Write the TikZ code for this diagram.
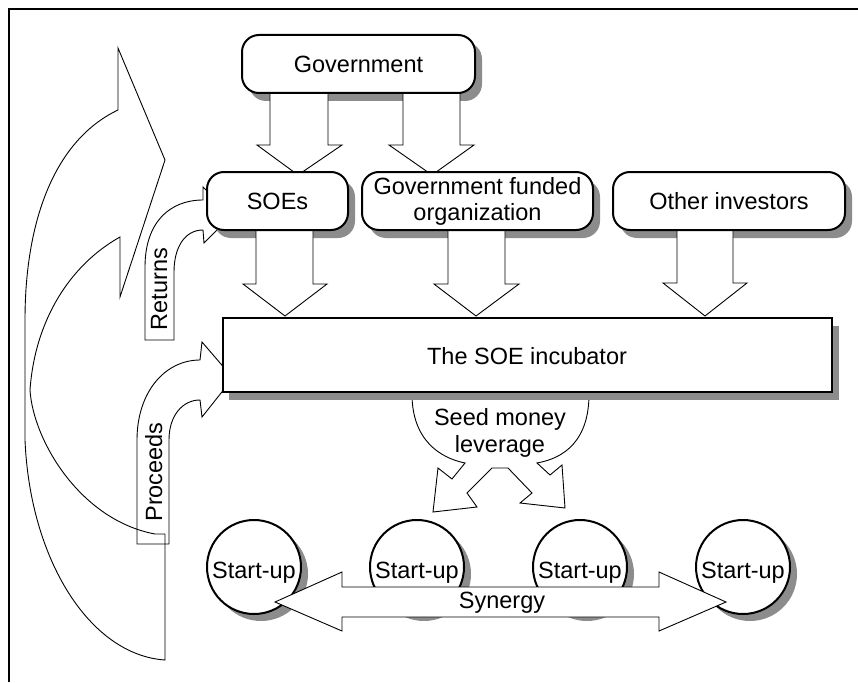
\documentclass[tikz,border=0pt]{standalone}
\usepackage{fontspec}
\setmainfont{Liberation Sans}
\begin{document}
\begin{tikzpicture}[x=1pt,y=-1pt,
  every node/.style={font=\fontsize{23.5}{26}\selectfont, inner sep=0pt},
  rbox/.style={draw, line width=2pt, rounded corners=17pt, fill=white, align=center},
  shade/.style={fill=black!45, draw=none},
  blk/.style={draw, line width=0.9pt, fill=white, line join=miter},
  outl/.style={draw, line width=0.9pt, line join=miter},
  sbox/.style={draw, line width=2pt, fill=white, minimum width=609pt, minimum height=74pt},
  sup/.style={draw, circle, line width=2pt, fill=white, minimum size=94pt},
  txt/.style={anchor=base, align=center}
  ]
\useasboundingbox (0,0) rectangle (858,682);
\fill[white] (0,0) rectangle (858,682);
% frame
\draw[line width=2.5pt] (9,682) -- (9,9) -- (858,9);

% big curved arrow (proceeds back to government)
\path[outl] (165,534) -- (165,660) .. controls (90,655) and (30,560) .. (25,440)
  -- (25,320) .. controls (25,220) and (55,140) .. (118,110) -- (118,48) -- (165,160)
  -- (120,297) -- (120,237) .. controls (70,265) and (35,320) .. (30,390)
  .. controls (33,440) and (80,520) .. (155,534) -- (165,534);

% Returns arrow
\path[outl] (174,340) -- (145,340) -- (145,267) .. controls (145,222) and (170,200) .. (203,200)
  -- (203,187) -- (232,215) -- (204,243) -- (203,230) .. controls (185,230) and (174,247) .. (174,272) -- cycle;
\node[txt, rotate=90] (ret) at (167,289) {Returns};

% Proceeds arrow
\path[outl] (169,544) -- (137,544) -- (137,440) .. controls (137,392) and (165,360) .. (200,360)
  -- (202,342) -- (233,378) -- (202,417) -- (200,400) .. controls (183,400) and (169,415) .. (169,440) -- cycle;
\node[txt, rotate=90] (pro) at (162,472) {Proceeds};

% Government
\fill[shade, rounded corners=17pt] (249,42) rectangle (482,101);
\path[blk] (270,88) -- (270,145) -- (257,145) -- (298,175) -- (342,145) -- (328,145) -- (328,88) -- cycle;
\path[blk] (403,88) -- (403,145) -- (389,145) -- (432,175) -- (474,145) -- (460,145) -- (460,88) -- cycle;
\node[rbox, minimum width=233pt, minimum height=58pt] (gov) at (358.5,64) {Government};

% second row shadows
\fill[shade, rounded corners=17pt] (214,180) rectangle (355,238);
\fill[shade, rounded corners=17pt] (369,180) rectangle (600,238);
\fill[shade, rounded corners=17pt] (620,180) rectangle (852,238);
% arrows to incubator
\path[blk] (256,225) -- (256,284) -- (243,284) -- (285,316) -- (327,284) -- (313,284) -- (313,225) -- cycle;
\path[blk] (448,225) -- (448,284) -- (434,284) -- (476,316) -- (519,284) -- (505,284) -- (505,225) -- cycle;
\path[blk] (677,225) -- (677,283) -- (663,283) -- (705,316) -- (747,283) -- (733,283) -- (733,225) -- cycle;
% second row boxes
\node[rbox, minimum width=141pt, minimum height=58pt] (soe) at (277.5,201) {SOEs};
\node[rbox, minimum width=231pt, minimum height=58pt] (gfo) at (477.5,201) {Government funded\\organization};
\node[rbox, minimum width=232pt, minimum height=58pt] (oth) at (729,201) {Other investors};

% seed money leverage
\path[outl] (412,394) .. controls (412,440) and (440,458) .. (465,463) -- (452,479) -- (438,468)
  -- (433,512) -- (477,507) -- (467,493) -- (492,468) -- (508,468) -- (532,493) -- (520,503)
  -- (565,508) -- (562,465) -- (550,475) -- (537,463) .. controls (565,458) and (589,440) .. (589,394);
\node[txt] (seed1) at (500,425) {Seed money};
\node[txt] (seed2) at (500,452) {leverage};

% incubator
\fill[shade] (229,326) rectangle (839,400);
\node[sbox] (inc) at (527.5,355) {};
\node[txt] (inct) at (527,364) {The SOE incubator};

% start-ups
\foreach \i/\x in {1/254,2/417,3/580,4/743}{
  \fill[shade] (\x+7,574) circle (47);
  \node[sup] (s\i) at (\x,567) {};
  \node[txt] (st\i) at (\x,578) {Start-up};
}

% synergy arrow
\path[blk] (275,602) -- (342,572) -- (342,587) -- (659,587) -- (659,572) -- (726,602)
  -- (659,631) -- (659,617) -- (342,617) -- (342,631) -- cycle;
\node[txt] (syn) at (502,608) {Synergy};
\end{tikzpicture}
\end{document}
